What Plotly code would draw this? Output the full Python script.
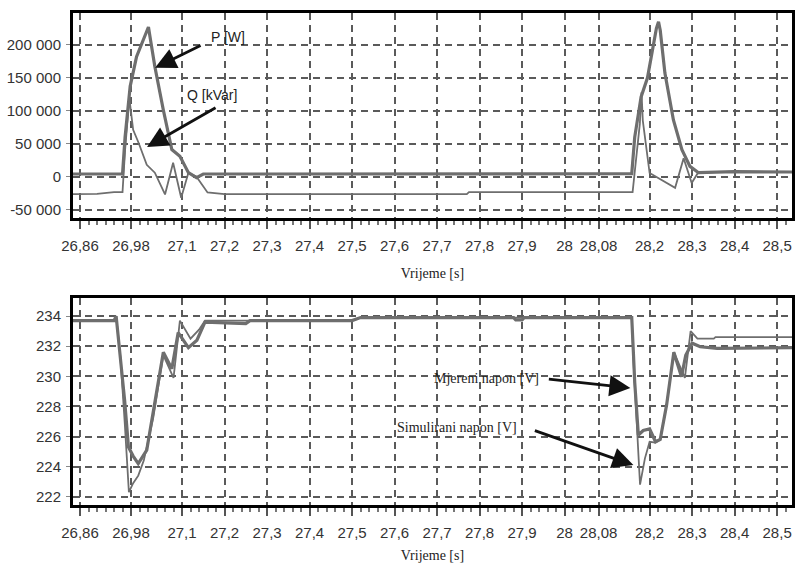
import plotly.graph_objects as go

# ---------------- data ----------------
x_tick_vals = [26.86, 26.98, 27.1, 27.2, 27.3, 27.4, 27.5, 27.6, 27.7, 27.8, 27.9, 28.0, 28.08, 28.2, 28.3, 28.4, 28.5]
x_tick_text = ["26,86", "26,98", "27,1", "27,2", "27,3", "27,4", "27,5", "27,6", "27,7", "27,8", "27,9", "28", "28,08", "28,2", "28,3", "28,4", "28,5"]

y1_tick_vals = [-50000, 0, 50000, 100000, 150000, 200000]
y1_tick_text = ["-50 000", "0", "50 000", "100 000", "150 000", "200 000"]
y2_tick_vals = [222, 224, 226, 228, 230, 232, 234]
y2_tick_text = ["222", "224", "226", "228", "230", "232", "234"]

# Top panel: P [W] (thick) and Q [kVar] (thin)
t_P = [26.84, 26.96, 26.966, 26.978, 26.993, 27.016, 27.021, 27.024, 27.036, 27.056, 27.076, 27.095,
       27.115, 27.134, 27.15, 27.2, 27.5, 28.0, 28.158, 28.165, 28.18, 28.195, 28.216, 28.221, 28.225,
       28.236, 28.256, 28.276, 28.295, 28.315, 28.4, 28.54]
P = [4000, 4000, 60000, 137000, 182000, 220000, 227000, 215000, 167000, 101000, 41000, 31000,
     6000, -1500, 4000, 4000, 4000, 4500, 4500, 60000, 121000, 150000, 225000, 235000, 222000,
     157000, 86000, 41000, 15600, 6000, 7500, 7000]

t_Q = [26.84, 26.9, 26.94, 26.96, 26.966, 26.976, 26.985, 26.998, 27.017, 27.036, 27.06, 27.079,
       27.098, 27.115, 27.134, 27.16, 27.2, 27.77, 27.775, 28.154, 28.16, 28.177, 28.181, 28.184,
       28.2, 28.26, 28.28, 28.299, 28.314, 28.4, 28.54]
Q = [-26500, -26000, -23500, -23500, 40000, 119000, 71000, 51000, 18000, 6000, -27000, 21000,
     -32000, 6000, 0, -24000, -26500, -26500, -23500, -23500, -23500, 80000, 128000, 85000,
     5500, -17000, 28000, -9500, 6000, 7500, 7000]

# Bottom panel: measured (thick) and simulated (thin) voltage
t_meas = [26.84, 26.94, 26.945, 26.955, 26.965, 26.974, 26.985, 26.997, 27.017, 27.032, 27.056,
          27.076, 27.091, 27.115, 27.135, 27.154, 27.25, 27.26, 27.5, 27.52, 27.88, 27.885, 27.9,
          27.905, 28.158, 28.162, 28.165, 28.1735, 28.185, 28.2, 28.214, 28.225, 28.24, 28.257,
          28.275, 28.285, 28.3, 28.319, 28.359, 28.54]
U_meas = [233.7, 233.7, 234.0, 231.3, 228.4, 225.3, 224.7, 224.2, 225.1, 227.6, 231.6,
          230.5, 232.9, 231.9, 232.4, 233.6, 233.5, 233.7, 233.7, 233.9, 233.9, 233.75, 233.75,
          233.9, 233.9, 231.5, 229.6, 226.1, 226.4, 226.5, 225.65, 225.8, 228.1, 231.6,
          229.97, 231.4, 232.2, 231.96, 231.85, 231.9]

t_sim = [26.84, 26.94, 26.945, 26.955, 26.965, 26.975, 26.985, 26.997, 27.01, 27.032, 27.056,
         27.08, 27.095, 27.12, 27.14, 27.154, 27.5, 27.52, 28.158, 28.162, 28.1775, 28.189, 28.2,
         28.214, 28.225, 28.24, 28.257, 28.283, 28.2965, 28.3125, 28.351, 28.355, 28.54]
U_sim = [233.7, 233.7, 234.0, 231.3, 227.0, 222.3, 222.9, 223.4, 224.4, 227.2, 231.4,
         229.9, 233.7, 232.5, 233.1, 233.7, 233.7, 233.9, 233.9, 231.0, 222.8, 224.55, 225.65,
         225.6, 225.8, 228.1, 231.6, 229.9, 233.0, 232.5, 232.5, 232.6, 232.6]

# ---------------- styles ----------------
LINE = "#6e6e6e"
GRID = "#5a5a5a"
SANS = "Liberation Sans, Arial, sans-serif"
SERIF = "Liberation Serif, Times New Roman, serif"
X_RANGE = [26.8435, 28.535]

fig = go.Figure()
fig.add_trace(go.Scatter(x=t_Q, y=Q, mode="lines", line=dict(color=LINE, width=1.8),
                         xaxis="x", yaxis="y", name="Q [kVar]"))
fig.add_trace(go.Scatter(x=t_P, y=P, mode="lines", line=dict(color=LINE, width=3.2),
                         xaxis="x", yaxis="y", name="P [W]"))
fig.add_trace(go.Scatter(x=t_sim, y=U_sim, mode="lines", line=dict(color=LINE, width=1.8),
                         xaxis="x2", yaxis="y2", name="Simulirani napon [V]"))
fig.add_trace(go.Scatter(x=t_meas, y=U_meas, mode="lines", line=dict(color=LINE, width=3.2),
                         xaxis="x2", yaxis="y2", name="Mjereni napon [V]"))


def xaxis(anchor):
    return dict(
        anchor=anchor, range=X_RANGE, tickmode="array", tickvals=x_tick_vals, ticktext=x_tick_text,
        ticks="outside", ticklen=8, tickwidth=1.5, tickcolor="#555",
        minor=dict(tickmode="linear", tick0=26.86, dtick=0.02, ticks="outside", ticklen=4,
                   tickcolor="#777", showgrid=False),
        showgrid=True, gridcolor=GRID, gridwidth=1.5, griddash="7px,5px",
        showline=True, linecolor="black", linewidth=3, mirror=True,
        tickfont=dict(family=SANS, size=15, color="#333"), ticklabelstandoff=4,
        zeroline=False, automargin=False,
        title=dict(text="Vrijeme [s]", font=dict(family=SERIF, size=14, color="#222"), standoff=15),
    )


def yaxis(anchor, domain, rng, vals, text):
    return dict(
        anchor=anchor, domain=domain, range=rng, tickmode="array", tickvals=vals, ticktext=text,
        ticks="outside", ticklen=4, tickwidth=1, tickcolor="#888",
        showgrid=True, gridcolor=GRID, gridwidth=1.5, griddash="7px,5px",
        showline=True, linecolor="black", linewidth=3, mirror=True,
        tickfont=dict(family=SANS, size=15, color="#333"), ticklabelstandoff=2,
        zeroline=False, automargin=False,
    )


fig.update_layout(
    width=795, height=563,
    margin=dict(l=73, r=3, t=13, b=58),
    paper_bgcolor="white", plot_bgcolor="white",
    showlegend=False,
    xaxis=xaxis("y"),
    yaxis=yaxis("x", [0.5827, 1.0], [-63200, 248200], y1_tick_vals, y1_tick_text),
    xaxis2=xaxis("y2"),
    yaxis2=yaxis("x2", [0.0, 0.4201], [221.45, 235.18], y2_tick_vals, y2_tick_text),
)

ann_font_sans = dict(family=SANS, size=14, color="#222")
ann_font_serif = dict(family=SERIF, size=14, color="#222")
arrow = dict(showarrow=True, arrowhead=2, arrowsize=1.5, arrowwidth=2.8, arrowcolor="#111", text="")

annotations = [
    dict(x=27.208, y=212200, xref="x", yref="y", text="P [W]", showarrow=False, font=ann_font_sans),
    dict(x=27.171, y=124100, xref="x", yref="y", text="Q [kVar]", showarrow=False, font=ann_font_sans),
    dict(x=27.0366, y=165100, xref="x", yref="y", ax=47, ay=-23, **arrow),
    dict(x=27.0177, y=45100, xref="x", yref="y", ax=70, ay=-40, **arrow),
    dict(x=27.8157, y=229.88, xref="x2", yref="y2", text="Mjereni napon [V]", showarrow=False, font=ann_font_serif),
    dict(x=27.747, y=226.63, xref="x2", yref="y2", text="Simulirani napon [V]", showarrow=False, font=ann_font_serif),
    dict(x=28.1547, y=229.22, xref="x2", yref="y2", ax=-83, ay=-9, **arrow),
    dict(x=28.1618, y=224.1, xref="x2", yref="y2", ax=-100, ay=-35, **arrow),
]
fig.update_layout(annotations=annotations)

fig.write_html("out.html", config={"displayModeBar": False},
               post_script="document.body.style.margin='0';")
